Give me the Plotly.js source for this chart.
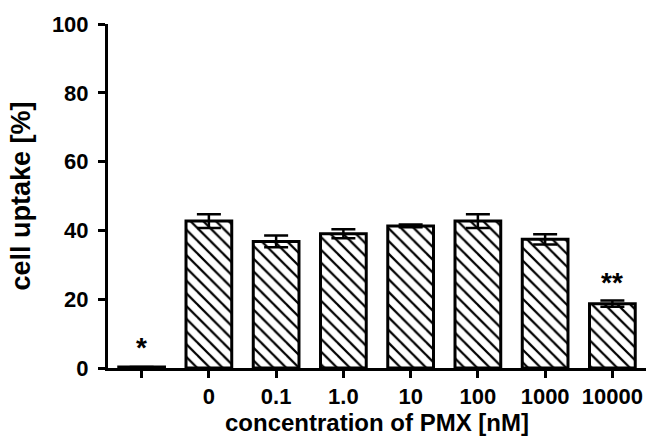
<!DOCTYPE html>
<html>
<head>
<meta charset="utf-8">
<script src="https://cdn.plot.ly/plotly-3.0.1.min.js"></script>
<style>html,body{margin:0;padding:0;background:#fff;}#chart{width:649px;height:438px;}</style>
</head>
<body>
<div id="chart"></div>
<script>
// Data
const categories = ['ctrl', '0', '0.1', '1.0', '10', '100', '1000', '10000'];
const tickLabels = ['', '0', '0.1', '1.0', '10', '100', '1000', '10000'];
const uptake = [0.3, 42.7, 36.8, 39.0, 41.3, 42.7, 37.4, 18.7];
const errors = [0, 2.0, 1.7, 1.3, 0.4, 2.0, 1.5, 0.9];
const sigLabels = ['*', '', '', '', '', '', '', '**'];
const sigY = [6, 0, 0, 0, 0, 0, 0, 25];

const FAM = 'Liberation Sans, Arial, sans-serif';
const tickFont = {family: FAM, size: 22, color: '#000', weight: 'bold'};
const xTitleFont = {family: FAM, size: 24, color: '#000', weight: 'bold'};
const yTitleFont = {family: FAM, size: 27, color: '#000', weight: 'bold'};

const trace = {
  type: 'bar',
  x: categories.map((c, i) => i),
  y: uptake,
  width: 0.68,
  marker: {
    color: 'white',
    line: {color: 'black', width: 3},
    pattern: {shape: '\\', size: 9, solidity: 0.25, fgcolor: 'black', bgcolor: 'white'}
  },
  error_y: {type: 'data', array: errors, visible: true, color: 'black', thickness: 2.5, width: 12},
  hoverinfo: 'none'
};

const annotations = categories.map((c, i) => ({
  x: i, y: sigY[i], xref: 'x', yref: 'y', text: sigLabels[i], showarrow: false,
  font: {family: FAM, size: 28, color: '#000', weight: 'bold'},
  yanchor: 'middle'
})).filter(a => a.text !== '');

const layout = {
  width: 649, height: 438,
  margin: {l: 108, r: 3, t: 24, b: 70},
  paper_bgcolor: 'white', plot_bgcolor: 'white',
  showlegend: false,
  font: tickFont,
  xaxis: {
    type: 'linear',
    tickvals: categories.map((c, i) => i), ticktext: tickLabels,
    range: [-0.5, categories.length - 0.5],
    showline: true, linecolor: 'black', linewidth: 3,
    ticks: 'outside', ticklen: 7, tickwidth: 3, tickcolor: 'black',
    showgrid: false, zeroline: false,
    tickfont: tickFont,
    title: {text: 'concentration of PMX [nM]', font: xTitleFont, standoff: 4}
  },
  yaxis: {
    range: [0, 100],
    tickvals: [0, 20, 40, 60, 80, 100],
    showline: true, linecolor: 'black', linewidth: 3,
    ticks: 'outside', ticklen: 7, tickwidth: 3, tickcolor: 'black',
    ticklabelstandoff: 5,
    showgrid: false, zeroline: false,
    tickfont: tickFont,
    title: {text: 'cell uptake [%]', font: yTitleFont, standoff: 14}
  },
  annotations: annotations
};

Plotly.newPlot('chart', [trace], layout, {displayModeBar: false, staticPlot: true});
</script>
</body>
</html>
